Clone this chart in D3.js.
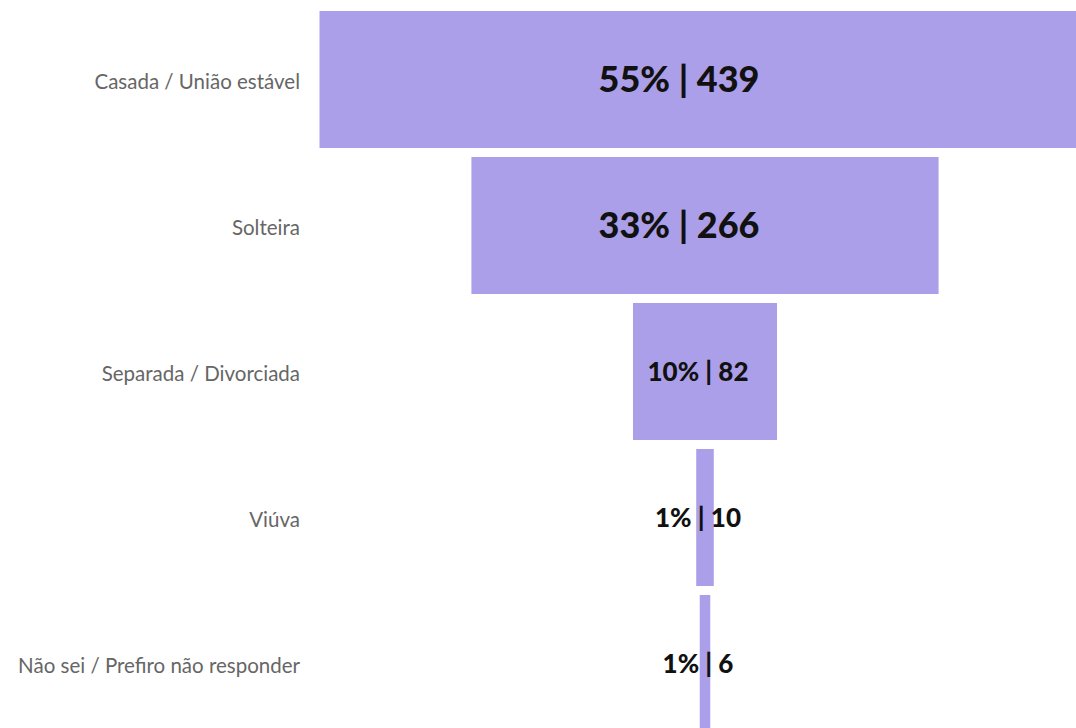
<!DOCTYPE html>
<html>
<head>
<meta charset="utf-8">
<script src="https://cdn.jsdelivr.net/npm/d3@7"></script>
<style>
  body { margin: 0; background: #fff; }
  svg { display: block; }
</style>
</head>
<body>
<div id="chart"></div>
<script>
const categories = [
  "Casada / União estável",
  "Solteira",
  "Separada / Divorciada",
  "Viúva",
  "Não sei / Prefiro não responder"
];
const counts = [439, 266, 82, 10, 6];
const percents = [55, 33, 10, 1, 1];

const width = 1076, height = 728;
const centerX = 705;

const svg = d3.select("#chart").append("svg")
  .attr("width", width)
  .attr("height", height);

const y = d3.scaleBand()
  .domain(categories)
  .range([11, 732])
  .paddingInner(0.0616);

const w = d3.scaleLinear()
  .domain([0, d3.max(counts)])
  .range([0, 771]);

const rows = categories.map((c, i) => ({ cat: c, count: counts[i], pct: percents[i] }));

svg.append("g")
  .selectAll("rect")
  .data(rows)
  .join("rect")
  .attr("x", d => centerX - w(d.count) / 2)
  .attr("y", d => y(d.cat))
  .attr("width", d => w(d.count))
  .attr("height", y.bandwidth())
  .attr("fill", "#ac9fe9");

// category labels
svg.append("g")
  .selectAll("text")
  .data(rows)
  .join("text")
  .attr("x", 300)
  .attr("y", d => y(d.cat) + y.bandwidth() / 2)
  .attr("dy", "0.45em")
  .attr("text-anchor", "end")
  .attr("fill", "#666")
  .style("font-family", "Lato, sans-serif")
  .style("font-size", "20.5px")
  .text(d => d.cat);

// value labels
const big = d => d.count > 100;
svg.append("g")
  .selectAll("text")
  .data(rows)
  .join("text")
  .attr("x", d => centerX + (big(d) ? -26 : -7))
  .attr("y", d => y(d.cat) + y.bandwidth() / 2)
  .attr("dy", "0.36em")
  .attr("text-anchor", "middle")
  .attr("fill", "#111")
  .style("font-family", "Lato, sans-serif")
  .style("font-weight", "900")
  .style("font-size", d => big(d) ? "36px" : "26px")
  .text(d => `${d.pct}% | ${d.count}`);
</script>
</body>
</html>
